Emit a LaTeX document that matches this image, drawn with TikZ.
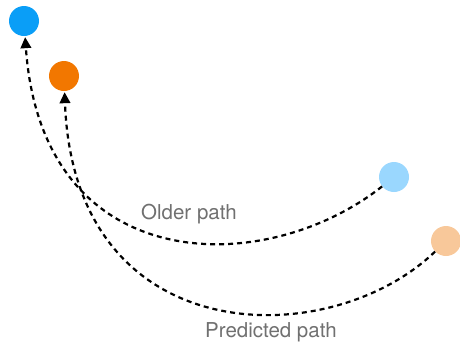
\documentclass[tikz,border=0pt]{standalone}
\usepackage{fontspec}
\setmainfont{TeX Gyre Heros}
\usepackage{tikz}
\usetikzlibrary{arrows.meta}

\definecolor{dotblue}{HTML}{0A9EF7}
\definecolor{dotorange}{HTML}{F27700}
\definecolor{dotlightblue}{HTML}{9AD7FE}
\definecolor{dotlightorange}{HTML}{F8C89A}
\definecolor{labelgray}{HTML}{707070}

\tikzset{
  dot/.style={circle, minimum size=30pt, inner sep=0pt},
  trail/.style={line width=2.2pt, dash pattern=on 5pt off 4pt, -{Triangle[length=11pt,width=10.5pt]}, shorten >=1pt},
  lbl/.style={text=labelgray, font=\fontsize{20.5}{24}\selectfont, inner sep=0pt, anchor=base}
}

\begin{document}
\begin{tikzpicture}[x=1pt, y=-1pt]
         \useasboundingbox (0,0) rectangle (460,349);
         \node [dot, fill=dotblue] (B) at (24, 21) {}; 
         \node [dot, fill=dotorange] (O) at (64, 76) {}; 
         \node [dot, fill=dotlightblue] (LB) at (394, 177) {}; 
         \node [dot, fill=dotlightorange] (LO) at (446, 241) {}; 
         \draw [trail] (LB) .. controls (265, 279) and (42, 279) .. (B); 
         \draw [trail] (LO) .. controls (330, 353) and (74, 353) .. (O); 
         \node [lbl] (older) at (189, 219) {Older path}; 
         \node [lbl] (predicted) at (271, 337) {Predicted path}; 
\end{tikzpicture}
\end{document}
